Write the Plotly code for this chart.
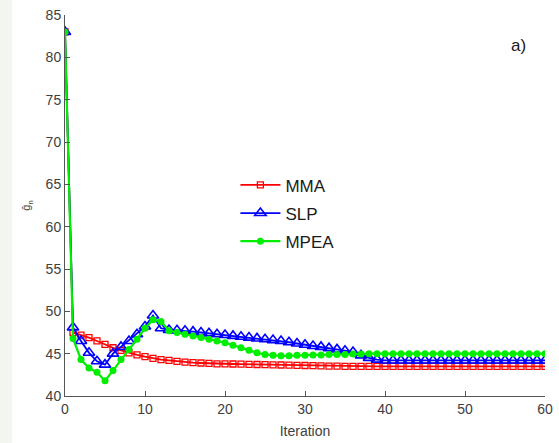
import plotly.graph_objects as go

iterations = list(range(0, 61))

mma = [83.0, 47.5, 47.2, 46.9, 46.5, 46.1, 45.7, 45.4, 45.1, 44.85, 44.65,
       44.45, 44.3, 44.2, 44.1, 44.0, 43.95, 43.9, 43.85, 43.8, 43.8,
       43.78, 43.76, 43.74, 43.72, 43.7, 43.68, 43.66, 43.64, 43.62, 43.6,
       43.58, 43.56, 43.54, 43.52, 43.5, 43.5, 43.5, 43.5, 43.5, 43.5,
       43.5, 43.5, 43.5, 43.5, 43.5, 43.5, 43.5, 43.5, 43.5, 43.5,
       43.5, 43.5, 43.5, 43.5, 43.5, 43.5, 43.5, 43.5, 43.5, 43.5]

slp = [83.0, 48.1, 46.5, 45.1, 44.1, 43.7, 45.0, 45.8, 46.5, 47.3, 48.2,
       49.5, 48.0, 47.8, 47.75, 47.7, 47.6, 47.5, 47.4, 47.3, 47.2,
       47.1, 47.0, 46.9, 46.8, 46.7, 46.6, 46.5, 46.35, 46.2, 46.05,
       45.9, 45.8, 45.65, 45.5, 45.35, 45.2, 44.8, 44.5, 44.3, 44.2,
       44.2, 44.2, 44.2, 44.2, 44.2, 44.2, 44.2, 44.2, 44.2, 44.2,
       44.2, 44.2, 44.2, 44.2, 44.2, 44.2, 44.2, 44.2, 44.2, 44.2]

mpea = [83.0, 46.8, 44.3, 43.3, 42.8, 41.8, 43.0, 44.3, 45.5, 46.7, 48.0,
        49.0, 48.8, 47.7, 47.5, 47.3, 47.1, 46.9, 46.7, 46.5, 46.3,
        46.0, 45.7, 45.4, 45.1, 44.9, 44.8, 44.75, 44.75, 44.8, 44.8,
        44.85, 44.85, 44.9, 44.9, 44.9, 44.95, 44.95, 45.0, 45.0, 45.0,
        45.0, 45.0, 45.0, 45.0, 45.0, 45.0, 45.0, 45.0, 45.0, 45.0,
        45.0, 45.0, 45.0, 45.0, 45.0, 45.0, 45.0, 45.0, 45.0, 45.0]

x_ticks = [0, 10, 20, 30, 40, 50, 60]
y_ticks = [40, 45, 50, 55, 60, 65, 70, 75, 80, 85]

FONT = "Liberation Sans, Arial, sans-serif"

fig = go.Figure()
fig.add_trace(go.Scatter(
    x=iterations, y=mma, name="MMA", mode="lines+markers", legendgroup="a",
    line=dict(color="#ff0000", width=1.8),
    marker=dict(symbol="square-open", size=6, color="#ff0000", line=dict(width=1.3))))
fig.add_trace(go.Scatter(
    x=iterations, y=slp, name="SLP", mode="lines+markers", legendgroup="b",
    line=dict(color="#0000ff", width=1.8),
    marker=dict(symbol="triangle-up-open", size=10, color="#0000ff", line=dict(width=1.6))))
fig.add_trace(go.Scatter(
    x=iterations, y=mpea, name="MPEA", mode="lines+markers", legendgroup="c",
    line=dict(color="#00ee00", width=2.2),
    marker=dict(symbol="circle", size=7, color="#00ee00")))

axis_common = dict(
    showgrid=False, zeroline=False, showline=True, linecolor="#555555", linewidth=1,
    ticks="inside", ticklen=5, tickcolor="#555555", automargin=False,
    tickfont=dict(family=FONT, size=14, color="#404040"),
)

fig.update_xaxes(range=[0, 60], tickvals=x_ticks, **axis_common,
                 title=dict(text="Iteration", standoff=10,
                            font=dict(family=FONT, size=14, color="#404040")))
fig.update_yaxes(range=[40, 85], tickvals=y_ticks, **axis_common,
                 title=dict(text="ĝ<sub>n</sub>", standoff=12,
                            font=dict(family=FONT, size=11, color="#404040")))

fig.add_annotation(x=0.944, y=0.921, xref="paper", yref="paper", text="a)",
                   showarrow=False, xanchor="center", yanchor="middle",
                   font=dict(family=FONT, size=17, color="#1a1a1a"))

fig.add_shape(type="rect", xref="paper", yref="paper", x0=-0.136, x1=-0.11, y0=-0.2, y1=1.1,
              fillcolor="#f3f5ef", line=dict(width=0), layer="below")

fig.update_layout(
    width=559, height=443,
    margin=dict(l=65, r=14, t=15, b=47, autoexpand=False),
    paper_bgcolor="white", plot_bgcolor="white",
    legend=dict(x=0.355, y=0.60, xanchor="left", yanchor="top",
                bgcolor="rgba(255,255,255,0)", borderwidth=0,
                font=dict(family=FONT, size=17, color="#1a1a1a"),
                itemwidth=40, tracegroupgap=3),
    showlegend=True,
)

fig.write_html("out.html", config={"displayModeBar": False},
               post_script="document.body.style.margin='0';")
